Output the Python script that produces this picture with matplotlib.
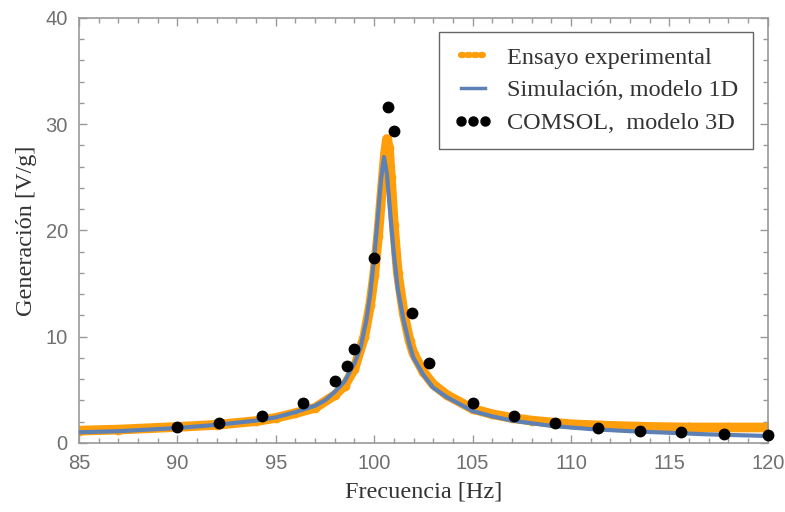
import matplotlib
matplotlib.use("Agg")
import matplotlib.pyplot as plt
from matplotlib.lines import Line2D
from matplotlib.ticker import MultipleLocator

# Ensayo experimental (orange band)
exp_freq = [85, 87, 90, 92, 94, 95, 96, 97, 98, 98.5, 99, 99.5, 99.8, 100.0,
            100.2, 100.4, 100.55, 100.65, 100.75, 100.85, 101.0, 101.2, 101.5,
            101.8, 102, 102.5, 103, 103.7, 105, 106, 107, 108, 110, 112, 114,
            116, 118, 120]
exp_gen = [1.15, 1.25, 1.5, 1.7, 2.05, 2.35, 2.8, 3.3, 4.5, 5.4, 7.0, 10.0,
           13.0, 15.8, 19.5, 24.0, 27.2, 28.6, 27.8, 25.0, 20.5, 16.0, 12.2,
           9.6, 8.4, 6.7, 5.5, 4.5, 3.2, 2.7, 2.35, 2.1, 1.75, 1.6, 1.5, 1.45,
           1.45, 1.45]

# Simulacion, modelo 1D
sim_freq = [85, 87, 89, 90, 91, 92, 93, 94, 95, 96, 97, 97.5, 98, 98.5, 99,
            99.3, 99.6, 99.8, 100.0, 100.2, 100.35, 100.5, 100.65, 100.8,
            101.0, 101.2, 101.5, 101.8, 102, 102.5, 103, 103.7, 105, 106, 107,
            109, 111, 113, 115, 117, 120]
sim_gen = [1.0, 1.1, 1.3, 1.4, 1.55, 1.7, 1.9, 2.1, 2.4, 2.9, 3.5, 4.0, 4.8,
           5.8, 7.5, 8.9, 11.5, 14.0, 17.4, 21.5, 24.8, 26.9, 25.3, 22.0,
           17.8, 14.5, 11.5, 9.2, 8.0, 6.4, 5.2, 4.3, 3.0, 2.5, 2.1, 1.6, 1.3,
           1.1, 0.95, 0.8, 0.65]

# COMSOL, modelo 3D
com_freq = [90.0, 92.1, 94.3, 96.4, 98.0, 98.6, 99.0, 100.0, 100.7, 101.0,
            101.9, 102.8, 105.0, 107.1, 109.2, 111.4, 113.5, 115.6, 117.8, 120.0]
com_gen = [1.5, 1.9, 2.5, 3.8, 5.8, 7.2, 8.8, 17.4, 31.6, 29.4, 12.2, 7.5,
           3.8, 2.5, 1.9, 1.4, 1.1, 1.0, 0.85, 0.75]

orange = "#FF9E0B"
blue = "#5E81B5"
frame = "#999999"

fig = plt.figure(figsize=(7.85, 5.12), dpi=100)
ax = fig.add_axes([0.1006, 0.135, 0.8774, 0.83])

ax.plot(exp_freq, exp_gen, color=orange, lw=7, marker="o", ms=6,
        solid_capstyle="butt", zorder=2)
ax.plot(sim_freq, sim_gen, color=blue, lw=3, zorder=3)
ax.plot(com_freq, com_gen, "o", color="black", ms=7.5, zorder=4,
        clip_on=False)

ax.set_xlim(85, 120)
ax.set_ylim(0, 40)
ax.xaxis.set_major_locator(MultipleLocator(5))
ax.xaxis.set_minor_locator(MultipleLocator(1))
ax.yaxis.set_major_locator(MultipleLocator(10))
ax.yaxis.set_minor_locator(MultipleLocator(2))
ax.tick_params(which="both", direction="in", top=True, right=True,
               color=frame, width=1)
ax.tick_params(which="major", length=6, labelsize=14.5, labelcolor="#707070",
               pad=8)
ax.tick_params(which="minor", length=3.5)
for lbl in ax.get_xticklabels() + ax.get_yticklabels():
    lbl.set_family("Liberation Sans")
for sp in ax.spines.values():
    sp.set_color(frame)
    sp.set_linewidth(1.2)

ax.set_xlabel("Frecuencia [Hz]", family="Liberation Serif", fontsize=17.5,
              color="#333333", labelpad=6)
ax.set_ylabel("Generación [V/g]", family="Liberation Serif", fontsize=17.5,
              color="#333333", labelpad=6)

handles = [
    Line2D([], [], color=orange, lw=4.5, ls=(0, (0.35, 0.7)),
           dash_capstyle="round"),
    Line2D([], [], color=blue, lw=2.5),
    Line2D([], [], color="black", ls="none", marker="o", ms=6.5),
]
labels = ["Ensayo experimental", "Simulación, modelo 1D", "COMSOL,  modelo 3D"]
leg = ax.legend(handles, labels, loc="upper right",
                bbox_to_anchor=(0.978, 0.967), borderaxespad=0, numpoints=3,
                fancybox=False, framealpha=1, edgecolor="#666666",
                handlelength=1.6, handletextpad=0.6, borderpad=0.6,
                labelspacing=0.45,
                prop={"family": "Liberation Serif", "size": 17.5})
leg.get_frame().set_linewidth(1)
for t in leg.get_texts():
    t.set_color("#333333")

fig.savefig("out.png", dpi=100)
